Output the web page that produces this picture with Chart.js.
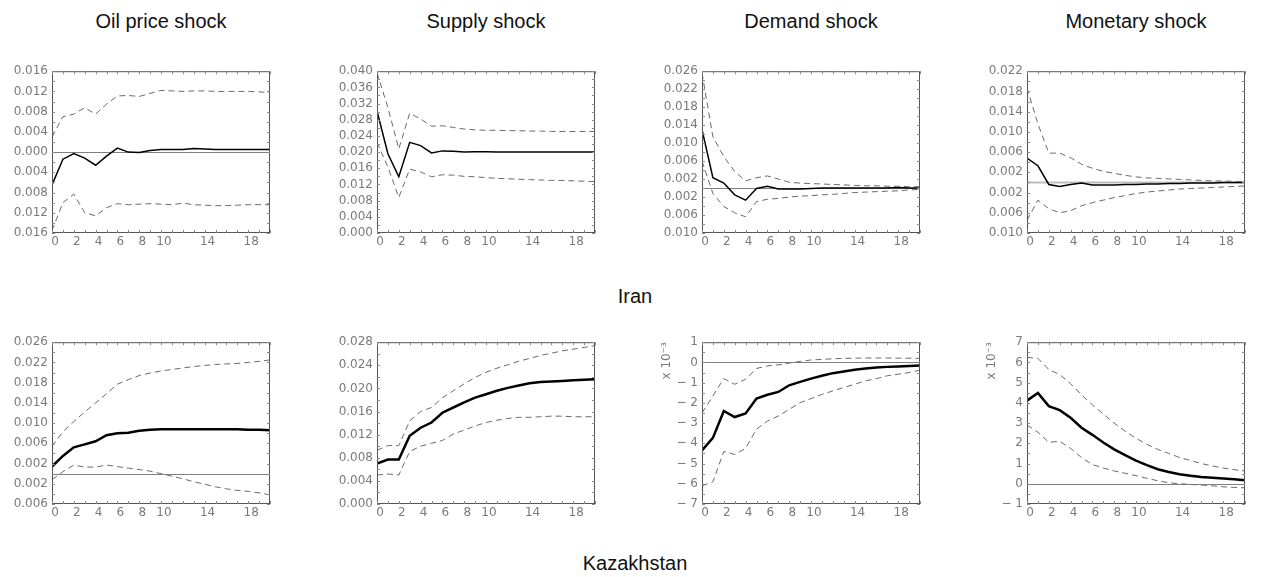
<!DOCTYPE html>
<html lang="en">
<head>
<meta charset="UTF-8">
<title>Impulse responses: Iran and Kazakhstan</title>
<script src="https://cdn.jsdelivr.net/npm/chart.js@4.4.0/dist/chart.umd.min.js"></script>
<style>
  body {
    margin: 0;
    width: 1270px;
    height: 577px;
    position: relative;
    overflow: hidden;
    background: #fff;
    font-family: "Liberation Sans", Arial, sans-serif;
  }
  .title {
    position: absolute;
    font-size: 20px;
    color: #111;
    transform: translateX(-50%);
    white-space: nowrap;
  }
  .panel {
    position: absolute;
    width: 288px;
    height: 197px;
  }
</style>
</head>
<body>
<div class="title" style="left:161px; top:10px">Oil price shock</div>
<div class="title" style="left:486px; top:10px">Supply shock</div>
<div class="title" style="left:811px; top:10px">Demand shock</div>
<div class="title" style="left:1136px; top:10px">Monetary shock</div>

<div class="panel" style="left:-10px; top:60px"><canvas id="c1"></canvas></div>
<div class="panel" style="left:315px; top:60px"><canvas id="c2"></canvas></div>
<div class="panel" style="left:640px; top:60px"><canvas id="c3"></canvas></div>
<div class="panel" style="left:965px; top:60px"><canvas id="c4"></canvas></div>

<div class="title" style="left:635px; top:285px">Iran</div>

<div class="panel" style="left:-10px; top:331px"><canvas id="c5"></canvas></div>
<div class="panel" style="left:315px; top:331px"><canvas id="c6"></canvas></div>
<div class="panel" style="left:640px; top:331px"><canvas id="c7"></canvas></div>
<div class="panel" style="left:965px; top:331px"><canvas id="c8"></canvas></div>

<div class="title" style="left:635px; top:552px">Kazakhstan</div>

<script>
// horizon 0..20
const steps = [0,1,2,3,4,5,6,7,8,9,10,11,12,13,14,15,16,17,18,19,20];
const xTicks = [0, 2, 4, 6, 8, 10, 14, 18];

// Iran
const irOilMid = [-0.0065,-0.0014,-0.0003,-0.0012,-0.0026,-0.0008,0.0008,0.0000,-0.0001,0.0003,0.0005,0.0005,0.0005,0.0007,0.0006,0.0005,0.0005,0.0005,0.0005,0.0005,0.0005];
const irOilHi  = [0.0030,0.0070,0.0075,0.0088,0.0075,0.0095,0.0111,0.0112,0.0110,0.0116,0.0122,0.0121,0.0120,0.0121,0.0121,0.0120,0.0120,0.0120,0.0120,0.0119,0.0118];
const irOilLo  = [-0.0155,-0.0100,-0.0083,-0.0120,-0.0126,-0.0110,-0.0102,-0.0104,-0.0103,-0.0102,-0.0103,-0.0104,-0.0101,-0.0104,-0.0105,-0.0106,-0.0106,-0.0105,-0.0104,-0.0104,-0.0104];

const irSupMid = [0.0302,0.0196,0.0139,0.0224,0.0216,0.0198,0.0203,0.0202,0.0200,0.0201,0.0201,0.0200,0.0200,0.0200,0.0200,0.0200,0.0200,0.0200,0.0200,0.0200,0.0200];
const irSupHi  = [0.0396,0.0310,0.0208,0.0296,0.0282,0.0264,0.0265,0.0261,0.0257,0.0255,0.0254,0.0254,0.0253,0.0253,0.0252,0.0252,0.0251,0.0251,0.0251,0.0251,0.0251];
const irSupLo  = [0.0224,0.0163,0.0088,0.0158,0.0151,0.0139,0.0144,0.0143,0.0140,0.0139,0.0137,0.0135,0.0134,0.0133,0.0132,0.0131,0.0130,0.0130,0.0129,0.0128,0.0127];

const irDemMid = [0.0130,0.0023,0.0011,-0.0015,-0.0027,-0.0001,0.0004,-0.0002,-0.0002,-0.0002,-0.0001,0.0000,0.0000,0.0000,0.0000,0.0000,0.0000,0.0000,0.0001,0.0000,0.0000];
const irDemHi  = [0.0256,0.0114,0.0070,0.0037,0.0016,0.0023,0.0027,0.0020,0.0013,0.0011,0.0010,0.0009,0.0008,0.0007,0.0006,0.0005,0.0005,0.0004,0.0004,0.0003,0.0003];
const irDemLo  = [0.0060,-0.0012,-0.0041,-0.0055,-0.0064,-0.0030,-0.0025,-0.0023,-0.0020,-0.0018,-0.0017,-0.0015,-0.0014,-0.0012,-0.0010,-0.0009,-0.0008,-0.0007,-0.0006,-0.0004,-0.0003];

const irMonMid = [0.0048,0.0033,-0.0004,-0.0008,-0.0004,-0.0001,-0.0005,-0.0005,-0.0005,-0.0004,-0.0004,-0.0003,-0.0003,-0.0002,-0.0002,-0.0001,-0.0001,-0.0001,0.0000,0.0000,0.0000];
const irMonHi  = [0.0187,0.0116,0.0058,0.0058,0.0049,0.0036,0.0028,0.0022,0.0018,0.0014,0.0011,0.0009,0.0008,0.0007,0.0006,0.0005,0.0004,0.0003,0.0003,0.0002,0.0002];
const irMonLo  = [-0.0075,-0.0035,-0.0052,-0.0060,-0.0056,-0.0046,-0.0040,-0.0035,-0.0030,-0.0026,-0.0022,-0.0019,-0.0017,-0.0015,-0.0013,-0.0012,-0.0011,-0.0010,-0.0009,-0.0008,-0.0007];

// Kazakhstan (demand and monetary in units of 10^-3)
const kzOilMid = [0.0014,0.0035,0.0052,0.0058,0.0064,0.0076,0.0080,0.0081,0.0085,0.0087,0.0088,0.0088,0.0088,0.0088,0.0088,0.0088,0.0088,0.0088,0.0087,0.0087,0.0086];
const kzOilHi  = [0.0054,0.0083,0.0103,0.0122,0.0140,0.0158,0.0177,0.0186,0.0194,0.0199,0.0203,0.0206,0.0209,0.0212,0.0214,0.0216,0.0217,0.0218,0.0220,0.0222,0.0225];
const kzOilLo  = [-0.0012,0.0004,0.0017,0.0013,0.0013,0.0017,0.0014,0.0011,0.0008,0.0005,0.0000,-0.0005,-0.0010,-0.0016,-0.0021,-0.0026,-0.0030,-0.0033,-0.0035,-0.0038,-0.0042];

const kzSupMid = [0.0070,0.0077,0.0077,0.0118,0.0132,0.0141,0.0158,0.0167,0.0176,0.0184,0.0190,0.0196,0.0201,0.0205,0.0209,0.0211,0.0212,0.0213,0.0214,0.0215,0.0216];
const kzSupHi  = [0.0093,0.0101,0.0101,0.0144,0.0160,0.0167,0.0184,0.0196,0.0208,0.0219,0.0228,0.0235,0.0241,0.0247,0.0252,0.0257,0.0261,0.0265,0.0268,0.0271,0.0274];
const kzSupLo  = [0.0050,0.0052,0.0050,0.0091,0.0100,0.0105,0.0110,0.0121,0.0128,0.0135,0.0141,0.0145,0.0148,0.0150,0.0150,0.0151,0.0152,0.0152,0.0151,0.0151,0.0151];

const kzDemMid = [-4.35,-3.73,-2.40,-2.70,-2.52,-1.79,-1.60,-1.46,-1.13,-0.96,-0.80,-0.66,-0.53,-0.45,-0.36,-0.30,-0.25,-0.22,-0.20,-0.18,-0.15];
const kzDemHi  = [-2.50,-1.66,-0.80,-1.08,-0.83,-0.30,-0.17,-0.12,-0.03,0.05,0.12,0.15,0.18,0.20,0.21,0.22,0.22,0.22,0.21,0.21,0.20];
const kzDemLo  = [-6.10,-5.90,-4.40,-4.55,-4.25,-3.30,-2.90,-2.65,-2.32,-1.99,-1.79,-1.58,-1.41,-1.24,-1.08,-0.91,-0.80,-0.66,-0.58,-0.50,-0.38];

const kzMonMid = [4.11,4.49,3.84,3.64,3.26,2.77,2.42,2.04,1.70,1.42,1.14,0.92,0.72,0.58,0.47,0.40,0.34,0.30,0.26,0.22,0.18];
const kzMonHi  = [6.25,6.20,5.65,5.40,4.95,4.40,3.90,3.45,3.00,2.60,2.25,1.95,1.70,1.50,1.30,1.15,1.00,0.88,0.78,0.70,0.63];
const kzMonLo  = [2.90,2.55,2.05,2.10,1.75,1.30,0.95,0.78,0.63,0.52,0.40,0.27,0.15,0.05,0.00,-0.03,-0.06,-0.10,-0.15,-0.18,-0.20];

// y tick values per panel
const yTicksIrOil = [-0.016,-0.012,-0.008,-0.004,0,0.004,0.008,0.012,0.016];
const yTicksIrSup = [0,0.004,0.008,0.012,0.016,0.020,0.024,0.028,0.032,0.036,0.040];
const yTicksIrDem = [-0.010,-0.006,-0.002,0.002,0.006,0.010,0.014,0.018,0.022,0.026];
const yTicksIrMon = [-0.010,-0.006,-0.002,0.002,0.006,0.010,0.014,0.018,0.022];
const yTicksKzOil = [-0.006,-0.002,0.002,0.006,0.010,0.014,0.018,0.022,0.026];
const yTicksKzSup = [0,0.004,0.008,0.012,0.016,0.020,0.024,0.028];
const yTicksKzDem = [-7,-6,-5,-4,-3,-2,-1,0,1];
const yTicksKzMon = [-1,0,1,2,3,4,5,6,7];

const tickFont = { family: 'DejaVu Sans', size: 12 };
const tickColor = '#7a7a7a';

// frame with inward ticks, plus the zero line
const framePlugin = {
    id: 'frame',
    beforeDatasetsDraw(chart, args, opts) {
        if (!opts.zero) return;
        const { ctx, chartArea: a, scales: { y } } = chart;
        const py = Math.round(y.getPixelForValue(0)) + 0.5;
        ctx.save();
        ctx.strokeStyle = opts.zeroColor;
        ctx.lineWidth = opts.zeroWidth;
        ctx.beginPath();
        ctx.moveTo(a.left, py);
        ctx.lineTo(a.right, py);
        ctx.stroke();
        ctx.restore();
    },
    afterDraw(chart, args, opts) {
        const { ctx, chartArea: a, scales: { x, y } } = chart;
        ctx.save();
        ctx.strokeStyle = '#555';
        ctx.lineWidth = 1;
        ctx.strokeRect(a.left + 0.5, a.top + 0.5, a.right - a.left - 1, a.bottom - a.top - 1);
        ctx.strokeStyle = '#888';
        ctx.beginPath();
        for (let s = x.min; s <= x.max; s++) {
            const px = Math.round(x.getPixelForValue(s)) + 0.5;
            ctx.moveTo(px, a.top); ctx.lineTo(px, a.top + 3);
            ctx.moveTo(px, a.bottom); ctx.lineTo(px, a.bottom - 3);
        }
        for (let v = y.min; v <= y.max + 1e-9; v += opts.yMinor) {
            const py = Math.round(y.getPixelForValue(v)) + 0.5;
            ctx.moveTo(a.left, py); ctx.lineTo(a.left + 3, py);
            ctx.moveTo(a.right, py); ctx.lineTo(a.right - 3, py);
        }
        ctx.stroke();
        ctx.restore();
    }
};

function fmtDec(v) {
    // the original prints the magnitude only
    return Math.abs(v).toFixed(3);
}
function fmtInt(v) {
    return v < 0 ? '\u2212 ' + Math.abs(v) : String(v);
}

function band(vals) {
    return {
        data: steps.map((s, i) => ({ x: s, y: vals[i] })),
        borderColor: '#6a6a6a',
        borderWidth: 1,
        borderDash: [6, 4],
        pointRadius: 0,
        tension: 0
    };
}

function drawPanel(id, mid, lo, hi, yTicks, p) {
    new Chart(document.getElementById(id), {
        type: 'line',
        data: {
            datasets: [
                band(hi),
                band(lo),
                {
                    data: steps.map((s, i) => ({ x: s, y: mid[i] })),
                    borderColor: '#000',
                    borderWidth: p.lw,
                    pointRadius: 0,
                    tension: 0
                }
            ]
        },
        options: {
            responsive: true,
            maintainAspectRatio: false,
            animation: false,
            layout: { padding: { top: 8, right: 8, left: 0, bottom: 0 } },
            plugins: {
                legend: { display: false },
                tooltip: { enabled: false },
                frame: { zero: p.zero, zeroColor: p.zeroColor || '#808080', zeroWidth: p.zeroWidth || 1, yMinor: p.minor }
            },
            scales: {
                x: {
                    type: 'linear',
                    min: 0,
                    max: 20,
                    afterBuildTicks: s => { s.ticks = xTicks.map(v => ({ value: v })); },
                    afterFit: s => { s.height = 24; },
                    grid: { display: false, drawTicks: false },
                    border: { display: false },
                    ticks: { autoSkip: false, maxRotation: 0, padding: 2, labelOffset: 3, color: tickColor, font: tickFont }
                },
                y: {
                    type: 'linear',
                    min: yTicks[0],
                    max: yTicks[yTicks.length - 1],
                    afterBuildTicks: s => { s.ticks = yTicks.map(v => ({ value: v })); },
                    afterFit: s => { s.width = 62; },
                    grid: { display: false, drawTicks: false },
                    border: { display: false },
                    ticks: { autoSkip: false, padding: 4, color: tickColor, font: tickFont, callback: p.fmt },
                    title: {
                        display: !!p.scaleTitle,
                        text: p.scaleTitle || '',
                        align: 'end',
                        color: tickColor,
                        font: tickFont,
                        padding: { top: 20, bottom: 0 }
                    }
                }
            }
        },
        plugins: [framePlugin]
    });
}

drawPanel('c1', irOilMid, irOilLo, irOilHi, yTicksIrOil, { lw: 1.5, zero: true, minor: 0.002, fmt: fmtDec });
drawPanel('c2', irSupMid, irSupLo, irSupHi, yTicksIrSup, { lw: 1.5, zero: false, minor: 0.002, fmt: fmtDec });
drawPanel('c3', irDemMid, irDemLo, irDemHi, yTicksIrDem, { lw: 1.5, zero: true, minor: 0.002, fmt: fmtDec });
drawPanel('c4', irMonMid, irMonLo, irMonHi, yTicksIrMon, { lw: 1.5, zero: true, zeroColor: '#bdbdbd', zeroWidth: 2, minor: 0.002, fmt: fmtDec });

drawPanel('c5', kzOilMid, kzOilLo, kzOilHi, yTicksKzOil, { lw: 2.5, zero: true, minor: 0.002, fmt: fmtDec });
drawPanel('c6', kzSupMid, kzSupLo, kzSupHi, yTicksKzSup, { lw: 2.5, zero: false, minor: 0.002, fmt: fmtDec });
drawPanel('c7', kzDemMid, kzDemLo, kzDemHi, yTicksKzDem, { lw: 2.5, zero: true, minor: 0.5, fmt: fmtInt, scaleTitle: 'x 10\u207B\u00B3' });
drawPanel('c8', kzMonMid, kzMonLo, kzMonHi, yTicksKzMon, { lw: 2.5, zero: true, minor: 0.5, fmt: fmtInt, scaleTitle: 'x 10\u207B\u00B3' });
</script>
</body>
</html>
